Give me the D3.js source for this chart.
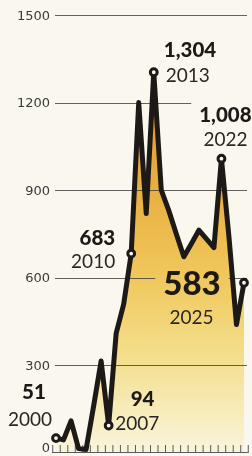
<!DOCTYPE html>
<html>
<head>
<meta charset="utf-8">
<script src="https://cdn.jsdelivr.net/npm/d3@7"></script>
<style>
    html, body { margin: 0; padding: 0; background: #f9f7ee; }
    svg { display: block; }
</style>
</head>
<body>
<svg id="chart" width="252" height="456"></svg>
<script>
const years = [2000, 2001, 2002, 2003, 2004, 2005, 2006, 2007, 2008, 2009, 2010, 2011, 2012,
               2013, 2014, 2015, 2016, 2017, 2018, 2019, 2020, 2021, 2022, 2023, 2024, 2025];
const values = [51, 45, 110, 15, 12, 160, 315, 94, 410, 510, 683, 1200, 820,
                1304, 900, 830, 750, 672, 717, 763, 733, 703, 1008, 740, 440, 583];
const yTicks = [0, 300, 600, 900, 1200, 1500];
const labelYears = [2000, 2007, 2010, 2013, 2022, 2025];

const bg = "#f9f7ee";
const ink = "#1d1917";

const x = d3.scaleLinear().domain([2000, 2025]).range([56, 244]);
const y = d3.scaleLinear().domain([0, 1500]).range([453, 15]);

const points = years.map((yr, i) => [yr, values[i]]);

const svg = d3.select("#chart");
const defs = svg.append("defs");

// orange at the top fading into the paper colour at the baseline
const grad = defs.append("linearGradient")
    .attr("id", "fillGrad")
    .attr("gradientUnits", "userSpaceOnUse")
    .attr("x1", 0).attr("x2", 0)
    .attr("y1", y(1304)).attr("y2", y(0));
[[0, "#e3952a"], [0.3, "#e9ae40"], [0.55, "#f0c95e"], [0.75, "#f4df8e"], [0.9, "#f7edbd"], [1, "#f9f4df"]]
    .forEach(s => grad.append("stop").attr("offset", s[0]).attr("stop-color", s[1]));

svg.append("path")
    .datum(points)
    .attr("fill", "url(#fillGrad)")
    .attr("d", d3.area()
        .x(d => x(d[0]))
        .y0(y(0))
        .y1(d => y(d[1])));

// gridlines, with holes cut where callouts sit
const mask = defs.append("mask").attr("id", "gridMask").attr("maskUnits", "userSpaceOnUse");
mask.append("rect").attr("width", 252).attr("height", 456).attr("fill", "white");

svg.append("g")
    .attr("mask", "url(#gridMask)")
    .selectAll("line")
    .data(yTicks.filter(d => d > 0))
    .join("line")
    .attr("x1", 55)
    .attr("x2", 247)
    .attr("y1", d => Math.round(y(d)) + 0.5)
    .attr("y2", d => Math.round(y(d)) + 0.5)
    .style("stroke", "#3d3d3d")
    .style("stroke-width", 1)
    .style("opacity", 0.8);

const yAxis = svg.append("g")
    .attr("transform", "translate(50,0)")
    .call(d3.axisLeft(y)
        .tickValues(yTicks)
        .tickSize(0)
        .tickPadding(0)
        .tickFormat(d3.format("d")));
yAxis.select(".domain").remove();
yAxis.selectAll("text")
    .attr("font-family", "'DejaVu Sans', sans-serif")
    .attr("font-size", 13)
    .attr("fill", "#3a3a3a")
    .attr("y", d => (d === 0 ? -6 : 0));

// year ticks along the bottom
const xAxis = svg.append("g")
    .attr("transform", `translate(0,${y(0)})`)
    .call(d3.axisTop(x)
        .tickValues(d3.range(1999.5, 2026, 1))
        .tickSize(8)
        .tickSizeOuter(0)
        .tickFormat(""));
xAxis.select(".domain").remove();
xAxis.selectAll("line").style("stroke", "#5a5a5a").style("stroke-width", 1);
svg.append("line")
    .attr("x1", x(1999.5)).attr("x2", x(2025.5))
    .attr("y1", y(0) - 0.5).attr("y2", y(0) - 0.5)
    .style("stroke", "#5a5a5a");

svg.append("path")
    .datum(points)
    .attr("fill", "none")
    .style("stroke", ink)
    .style("stroke-width", 5)
    .style("stroke-linejoin", "round")
    .style("stroke-linecap", "round")
    .attr("d", d3.line()
        .x(d => x(d[0]))
        .y(d => y(d[1])));

const marked = points.filter(d => labelYears.includes(d[0]));

svg.selectAll(".u-point")
    .data(marked)
    .join("circle")
    .classed("u-point", true)
    .attr("cx", d => x(d[0]))
    .attr("cy", d => y(d[1]))
    .attr("r", 3.4)
    .style("fill", bg)
    .style("stroke", ink)
    .style("stroke-width", 3);

// callout placement relative to each marked point: [dx, dy, anchor]
const place = {
    2000: {v: [-22, -39, "middle"], t: [-4, -12, "end"]},
    2007: {v: [22, -19.5, "start"], t: [6.5, 4, "start"]},
    2010: {v: [-16, -9, "end"], t: [-16, 14.5, "end"]},
    2013: {v: [10, -15, "start"], t: [12, 10, "start"]},
    2022: {v: [4, -36.6, "middle"], t: [4, -12.6, "middle"]},
    2025: {v: [-52, 12, "middle"], t: [-52.5, 41, "middle"]}
};

const fmt = d3.format(",");
const labels = svg.append("g")
    .attr("font-family", "Lato, 'Open Sans', sans-serif")
    .attr("fill", ink);

marked.forEach(d => {
    const p = place[d[0]];
    const px = x(d[0]), py = y(d[1]);
    labels.append("text")
        .attr("x", px + p.v[0])
        .attr("y", py + p.v[1])
        .attr("text-anchor", p.v[2])
        .attr("font-weight", 900)
        .attr("font-size", d[0] === 2025 ? 33 : 20.5)
        .text(fmt(d[1]));
    labels.append("text")
        .attr("x", px + p.t[0])
        .attr("y", py + p.t[1])
        .attr("text-anchor", p.t[2])
        .attr("font-weight", 400)
        .attr("font-size", 19)
        .attr("fill", "#2a2624")
        .text(d[0]);
});

labels.selectAll("text").each(function () {
    const b = this.getBBox();
    mask.append("rect")
        .attr("x", b.x - 8)
        .attr("y", b.y - 3)
        .attr("width", b.width + 16)
        .attr("height", b.height + 6)
        .attr("fill", "black");
});
</script>
</body>
</html>
